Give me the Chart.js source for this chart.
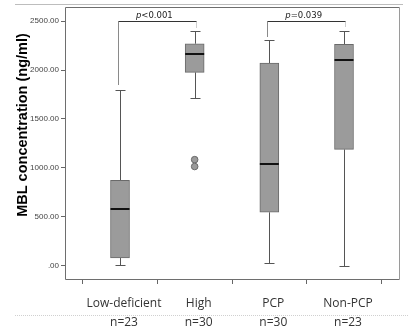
<!DOCTYPE html>
<html>
<head>
<meta charset="utf-8">
<script src="https://cdn.jsdelivr.net/npm/chart.js@4/dist/chart.umd.min.js"></script>
<style>
html,body{margin:0;padding:0;background:#fff;}
#wrap{width:409px;height:334px;position:relative;}
</style>
</head>
<body>
<div id="wrap"><canvas id="c" width="409" height="334"></canvas></div>
<script>
const categories = ['Low-deficient', 'High', 'PCP', 'Non-PCP'];
const nLabels = ['n=23', 'n=30', 'n=30', 'n=23'];
const whiskerLow = [5, 1714, 34, 3];
const q1 = [81, 1976, 548, 1190];
const median = [577, 2160, 1041, 2105];
const q3 = [873, 2268, 2071, 2262];
const whiskerHigh = [1792, 2395, 2306, 2395];
const outlierCat = [1, 1];
const outlierVal = [1085, 1015];
const yTicks = [0, 500, 1000, 1500, 2000, 2500];
const yAxisTitle = 'MBL concentration (ng/ml)';
// significance brackets
const brackets = [
  {from: 0, to: 1, level: 2500, leftEnd: 1847, rightEnd: 2430, p: 'p', rest: '<0.001'},
  {from: 2, to: 3, level: 2505, leftEnd: 2337, rightEnd: 2440, p: 'p', rest: '=0.039'}
];

const boxPlugin = {
  id: 'boxExtras',
  beforeDraw(chart) {
    const ctx = chart.ctx;
    ctx.save();
    ctx.fillStyle = '#fff';
    ctx.fillRect(0, 0, chart.width, chart.height);
    ctx.strokeStyle = '#bdbdbd';
    ctx.lineWidth = 1;
    ctx.beginPath(); ctx.moveTo(15, 4.5); ctx.lineTo(403, 4.5); ctx.stroke();
    ctx.strokeStyle = '#d0d0d0';
    ctx.setLineDash([1, 1]);
    ctx.beginPath(); ctx.moveTo(15, 315.5); ctx.lineTo(409, 315.5); ctx.stroke();
    ctx.setLineDash([]);
    ctx.restore();
  },
  beforeDatasetsDraw(chart) {
    const ctx = chart.ctx, a = chart.chartArea;
    const xs = chart.scales.x, ys = chart.scales.y;
    ctx.save();
    ctx.lineWidth = 1;
    ctx.strokeStyle = '#6e6e6e';
    ctx.beginPath();
    ctx.moveTo(Math.round(a.right) + 0.5, Math.round(a.top) + 0.5);
    ctx.lineTo(Math.round(a.left) + 0.5, Math.round(a.top) + 0.5);
    ctx.lineTo(Math.round(a.left) + 0.5, Math.round(a.bottom) + 0.5);
    ctx.lineTo(Math.round(a.right) + 0.5, Math.round(a.bottom) + 0.5);
    ctx.stroke();
    ctx.strokeStyle = '#9a9a9a';
    ctx.beginPath();
    ctx.moveTo(Math.round(a.right) + 0.5, Math.round(a.top) + 0.5);
    ctx.lineTo(Math.round(a.right) + 0.5, Math.round(a.bottom) + 0.5);
    ctx.stroke();
    ctx.strokeStyle = '#555';
    categories.forEach((c, i) => {
      const x = Math.round(xs.getPixelForValue(i)) + 0.5;
      const yl = Math.round(ys.getPixelForValue(whiskerLow[i])) + 0.5;
      const yh = Math.round(ys.getPixelForValue(whiskerHigh[i])) + 0.5;
      const yq1 = ys.getPixelForValue(q1[i]);
      const yq3 = ys.getPixelForValue(q3[i]);
      ctx.beginPath();
      ctx.moveTo(x, yh); ctx.lineTo(x, yq3);
      ctx.moveTo(x, yq1); ctx.lineTo(x, yl);
      ctx.moveTo(x - 5, yh); ctx.lineTo(x + 5, yh);
      ctx.moveTo(x - 5, yl); ctx.lineTo(x + 5, yl);
      ctx.stroke();
    });
    brackets.forEach(b => {
      const x1 = Math.round(xs.getPixelForValue(b.from)) - 1.5;
      const x2 = Math.round(xs.getPixelForValue(b.to)) + 1.5;
      const yb = Math.round(ys.getPixelForValue(b.level)) + 0.5;
      ctx.strokeStyle = '#8a8a8a';
      ctx.beginPath();
      ctx.moveTo(x1, Math.round(ys.getPixelForValue(b.leftEnd)));
      ctx.lineTo(x1, yb);
      ctx.stroke();
      ctx.strokeStyle = '#cfcfcf';
      ctx.beginPath();
      ctx.moveTo(x2, yb);
      ctx.lineTo(x2, Math.round(ys.getPixelForValue(b.rightEnd)));
      ctx.stroke();
      ctx.strokeStyle = '#333';
      ctx.beginPath();
      ctx.moveTo(x1, yb); ctx.lineTo(x2, yb);
      ctx.stroke();
      const cx = (xs.getPixelForValue(b.from) + xs.getPixelForValue(b.to)) / 2;
      ctx.fillStyle = '#222';
      ctx.textBaseline = 'alphabetic';
      ctx.font = 'italic 8.5px "DejaVu Sans"';
      const wp = ctx.measureText(b.p).width;
      ctx.font = '8.5px "DejaVu Sans"';
      const wr = ctx.measureText(b.rest).width;
      const sx = cx - 3 - (wp + wr) / 2;
      ctx.font = 'italic 8.5px "DejaVu Sans"';
      ctx.textAlign = 'left';
      ctx.fillText(b.p, sx, yb - 4);
      ctx.font = '8.5px "DejaVu Sans"';
      ctx.fillText(b.rest, sx + wp, yb - 4);
    });
    ctx.restore();
  },
  afterDatasetsDraw(chart) {
    const ctx = chart.ctx;
    const xs = chart.scales.x, ys = chart.scales.y;
    ctx.save();
    ctx.strokeStyle = '#111';
    ctx.lineWidth = 2;
    categories.forEach((c, i) => {
      const x = xs.getPixelForValue(i);
      const y = Math.round(ys.getPixelForValue(median[i]));
      ctx.beginPath();
      ctx.moveTo(x - 9.5, y); ctx.lineTo(x + 9.5, y);
      ctx.stroke();
    });
    ctx.translate(23, 125);
    ctx.rotate(-Math.PI / 2);
    ctx.font = 'bold 14.5px "Liberation Sans", Arial, sans-serif';
    ctx.fillStyle = '#000';
    ctx.textAlign = 'center';
    ctx.textBaseline = 'middle';
    ctx.fillText(yAxisTitle, 0, 0);
    ctx.restore();
  }
};

new Chart(document.getElementById('c'), {
  type: 'bar',
  data: {
    datasets: [
      {
        type: 'bar',
        data: categories.map((c, i) => ({x: i, y: [q1[i], q3[i]]})),
        backgroundColor: '#9b9b9b',
        borderColor: '#6a6a6a',
        borderWidth: 1,
        borderSkipped: false,
        barThickness: 19,
        grouped: false
      },
      {
        type: 'scatter',
        data: outlierVal.map((v, i) => ({x: outlierCat[i], y: v})),
        pointRadius: 3.3,
        pointBackgroundColor: '#9b9b9b',
        pointBorderColor: '#6a6a6a',
        pointBorderWidth: 1
      }
    ]
  },
  options: {
    responsive: false,
    animation: false,
    devicePixelRatio: 1,
    layout: {padding: {left: 0, right: 10, top: 7, bottom: 0}},
    plugins: {legend: {display: false}, tooltip: {enabled: false}, title: {display: false}},
    scales: {
      x: {
        type: 'linear',
        min: -0.7366,
        max: 3.7366,
        offset: false,
        afterBuildTicks(scale) { scale.ticks = categories.map((c, i) => ({value: i})); },
        afterFit(scale) { scale.height = 55; },
        grid: {drawOnChartArea: false, drawTicks: true, tickLength: 5, color: '#666'},
        border: {display: false},
        ticks: {
          autoSkip: false,
          maxRotation: 0,
          padding: 10,
          labelOffset: 4,
          color: '#333',
          font: {family: '"Open Sans", sans-serif', size: 12, lineHeight: '19px'},
          callback: (v) => { const i = Math.round(v); return [categories[i], nLabels[i]]; }
        }
      },
      y: {
        type: 'linear',
        min: -133,
        max: 2643,
        afterBuildTicks(scale) { scale.ticks = yTicks.map(v => ({value: v})); },
        afterFit(scale) { scale.width = 65; },
        grid: {drawOnChartArea: false, drawTicks: true, tickLength: 4, color: '#666'},
        border: {display: false},
        ticks: {
          padding: 2,
          color: '#444',
          font: {family: '"Liberation Sans", Arial, sans-serif', size: 8},
          callback: (v) => v === 0 ? '.00' : v.toFixed(2)
        }
      }
    }
  },
  plugins: [boxPlugin]
});
</script>
</body>
</html>
